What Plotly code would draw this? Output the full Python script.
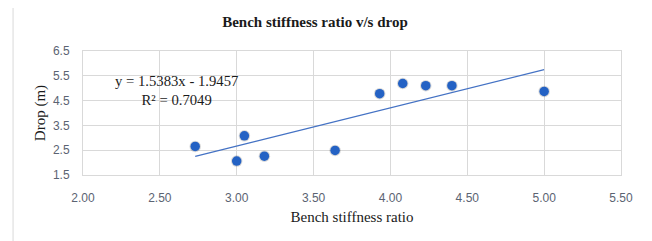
import plotly.graph_objects as go

stiffness_ratio = [2.73, 3.00, 3.05, 3.18, 3.64, 3.93, 4.08, 4.23, 4.40, 5.00]
drop_m = [2.65, 2.06, 3.08, 2.26, 2.49, 4.78, 5.19, 5.10, 5.10, 4.87]
slope = 1.5383
intercept = -1.9457
r_squared = 0.7049
x_ticks = [2.0, 2.5, 3.0, 3.5, 4.0, 4.5, 5.0, 5.5]
y_ticks = [1.5, 2.5, 3.5, 4.5, 5.5, 6.5]

x_line = [min(stiffness_ratio), max(stiffness_ratio)]
y_line = [slope * x + intercept for x in x_line]

fig = go.Figure()
fig.add_trace(go.Scatter(x=x_line, y=y_line, mode="lines",
                         line=dict(color="#4472C4", width=1.2), hoverinfo="skip"))
# soft shadow under markers
fig.add_trace(go.Scatter(x=stiffness_ratio, y=drop_m, mode="markers",
                         marker=dict(size=11.5, color="rgba(0,0,0,0.15)"),
                         hoverinfo="skip"))
fig.add_trace(go.Scatter(x=stiffness_ratio, y=drop_m, mode="markers",
                         marker=dict(size=9.5, color="#2462C4")))

serif = "Liberation Serif, Times New Roman, serif"
sans = "Liberation Sans, Arial, sans-serif"
tick_color = "#5b6372"

# page body has an 8px margin, so the figure is sized/offset to compensate
W, H = 644, 233
fig.update_layout(
    width=W, height=H,
    margin=dict(l=75, r=31, t=43, b=66, autoexpand=False),
    paper_bgcolor="white", plot_bgcolor="white",
    showlegend=False,
    title=dict(text="<b>Bench stiffness ratio v/s drop</b>", x=307 / W, xanchor="center",
               y=1 - 14 / H, yanchor="middle",
               font=dict(family=serif, size=15, color="#1a1a1a")),
    xaxis=dict(range=[2.0, 5.5], tickvals=x_ticks,
               ticktext=[f"{v:.2f}" for v in x_ticks],
               showgrid=True, gridcolor="#d9d9d9", gridwidth=1,
               zeroline=False, showline=True, linecolor="#d9d9d9",
               ticks="", ticklabelstandoff=12, automargin=False,
               tickfont=dict(family=sans, size=12, color=tick_color),
               title=dict(text="Bench stiffness ratio", standoff=7,
                          font=dict(family=serif, size=15, color="#1a1a1a")),
               mirror=True),
    yaxis=dict(range=[1.5, 6.5], tickvals=y_ticks,
               ticktext=[f"{v:.1f}" for v in y_ticks],
               showgrid=True, gridcolor="#d9d9d9", gridwidth=1,
               zeroline=False, showline=True, linecolor="#d9d9d9",
               ticks="", ticklabelstandoff=10, automargin=False,
               tickfont=dict(family=sans, size=12, color=tick_color),
               title=dict(text="Drop (m)", standoff=3,
                          font=dict(family=serif, size=15, color="#1a1a1a")),
               mirror=True),
    shapes=[dict(type="line", xref="paper", yref="paper", x0=-0.130, x1=-0.130,
                 y0=-0.7, y1=1.7, line=dict(color="#d9d9d9", width=1))],
    annotations=[
        dict(text=f"y = {slope}x - {abs(intercept)}<br>R² = {r_squared}",
             xref="x", yref="y", x=2.61, y=4.9, showarrow=False, align="center",
             font=dict(family=serif, size=14.7, color="#1a1a1a")),
    ],
)

fig.write_html("out.html")
